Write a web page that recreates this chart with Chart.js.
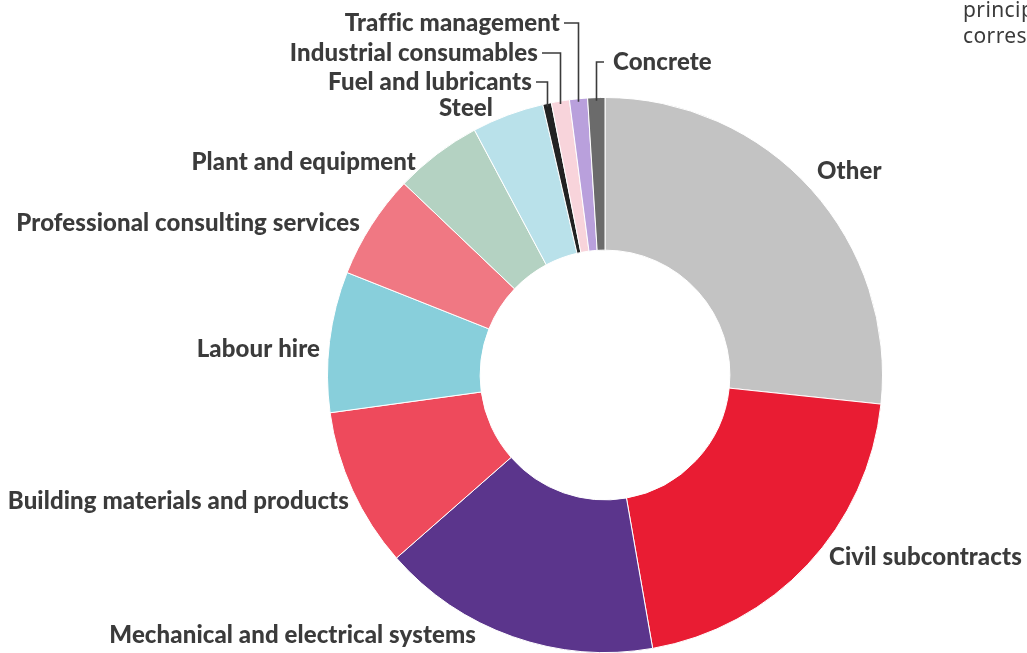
<!DOCTYPE html>
<html>
<head>
<meta charset="utf-8">
<script src="https://cdn.jsdelivr.net/npm/chart.js@4.4.0/dist/chart.umd.min.js"></script>
<style>
  html, body { margin: 0; padding: 0; background: #ffffff; }
  #wrap { position: relative; width: 1027px; height: 653px; }
</style>
</head>
<body>
<div id="wrap"><canvas id="c" width="1027" height="653"></canvas></div>
<script>
// ---- Data ----
const categories = [
  "Other",
  "Civil subcontracts",
  "Mechanical and electrical systems",
  "Building materials and products",
  "Labour hire",
  "Professional consulting services",
  "Plant and equipment",
  "Steel",
  "Fuel and lubricants",
  "Industrial consumables",
  "Traffic management",
  "Concrete"
];
const shares = [26.7, 20.6, 16.3, 9.3, 8.2, 6.1, 5.1, 4.2, 0.5, 1.05, 1.05, 1.0];
const sliceColors = [
  "#c3c3c3", "#e91c33", "#5b358c", "#ee4a5c", "#88cfdb", "#f07883",
  "#b4d2c2", "#b9e1ea", "#222222", "#f8d4db", "#b9a0dc", "#6b6b6b"
];
const cornerText = ["princip", "corres"];

// ---- Label layout (positions only) ----
const labelLayout = [
  { x: 817, y: 171, align: "left" },
  { x: 829, y: 557, align: "left" },
  { x: 476, y: 635, align: "right" },
  { x: 349, y: 501, align: "right" },
  { x: 320, y: 349, align: "right" },
  { x: 360, y: 223, align: "right" },
  { x: 416, y: 162, align: "right" },
  { x: 493, y: 108, align: "right" },
  { x: 532, y: 82, align: "right", leader: true },
  { x: 538, y: 53, align: "right", leader: true },
  { x: 560, y: 23, align: "right", leader: true },
  { x: 613, y: 62, align: "left", leader: true }
];

const FONT = "900 24px Lato, 'Open Sans', sans-serif";
const TEXT_COLOR = "#3b3b3b";

const labelPlugin = {
  id: "sliceLabels",
  afterDraw(chart) {
    const ctx = chart.ctx;
    const meta = chart.getDatasetMeta(0);
    ctx.save();
    ctx.font = FONT;
    ctx.fillStyle = TEXT_COLOR;
    ctx.textBaseline = "middle";
    try { ctx.letterSpacing = "0.1px"; } catch (e) {}
    meta.data.forEach((arc, i) => {
      const L = labelLayout[i];
      ctx.textAlign = L.align;
      ctx.fillText(categories[i], L.x, L.y);
      if (L.leader) {
        const p = arc.getProps(["x", "y", "startAngle", "endAngle", "outerRadius"], true);
        const mid = (p.startAngle + p.endAngle) / 2;
        const lx = Math.round(p.x + Math.cos(mid) * p.outerRadius) + 0.5;
        const ly = p.y + Math.sin(mid) * p.outerRadius + 3;
        ctx.strokeStyle = "#3b3b3b";
        ctx.lineWidth = 1.6;
        ctx.beginPath();
        if (L.align === "right") {
          ctx.moveTo(L.x + 4, L.y);
        } else {
          ctx.moveTo(L.x - 9, L.y);
        }
        ctx.lineTo(lx, L.y);
        ctx.lineTo(lx, ly);
        ctx.stroke();
      }
    });
    // cropped corner text
    try { ctx.letterSpacing = "0.4px"; } catch (e) {}
    ctx.font = "21px 'Noto Sans', Lato, sans-serif";
    ctx.fillStyle = "#3a3a3a";
    ctx.textAlign = "left";
    ctx.textBaseline = "alphabetic";
    ctx.fillText(cornerText[0], 963, 17);
    ctx.fillText(cornerText[1], 963, 43);
    ctx.restore();
  }
};

new Chart(document.getElementById("c"), {
  type: "doughnut",
  data: {
    labels: categories,
    datasets: [{
      data: shares,
      backgroundColor: sliceColors,
      borderColor: "#ffffff",
      borderWidth: 1
    }]
  },
  options: {
    responsive: false,
    animation: false,
    cutout: "45%",
    rotation: 0,
    layout: { padding: { left: 327, right: 144, top: 97, bottom: 0 } },
    plugins: {
      legend: { display: false },
      tooltip: { enabled: false }
    }
  },
  plugins: [labelPlugin]
});
</script>
</body>
</html>
